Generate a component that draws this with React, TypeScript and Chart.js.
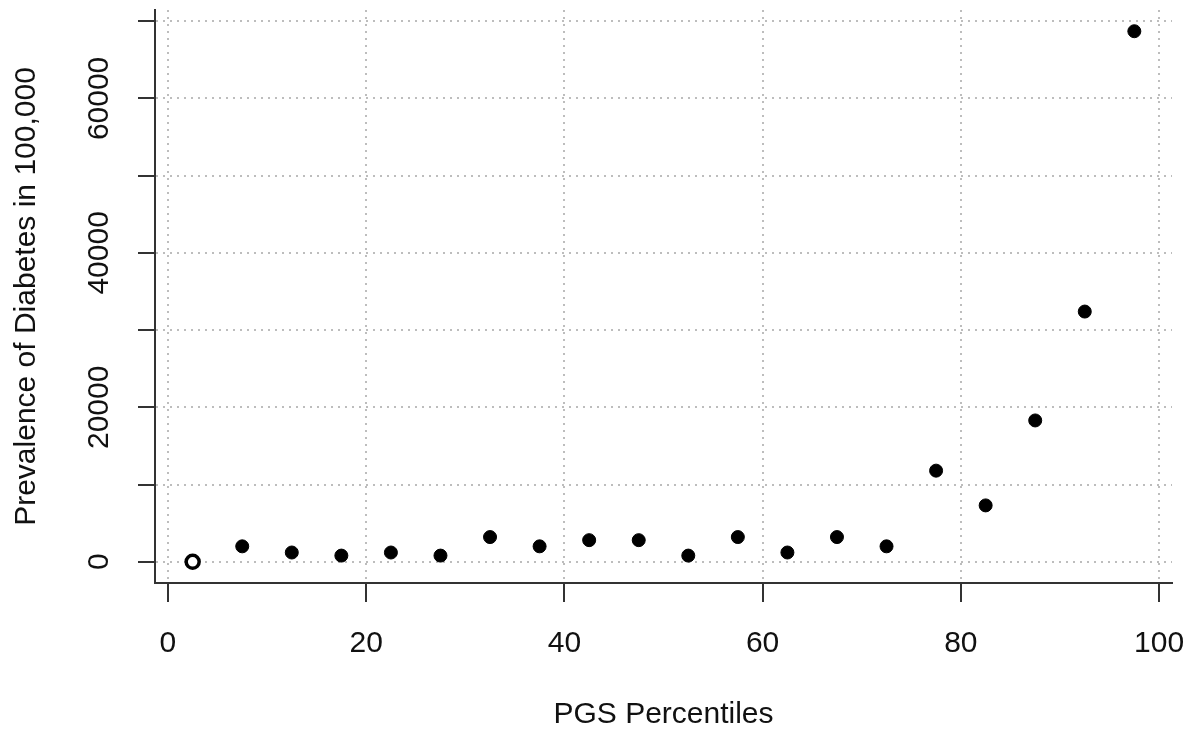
import React, { useEffect, useRef } from "react";
import { Chart, registerables } from "chart.js";

Chart.register(...registerables);

const percentiles = [2.5, 7.5, 12.5, 17.5, 22.5, 27.5, 32.5, 37.5, 42.5, 47.5, 52.5, 57.5, 62.5, 67.5, 72.5, 77.5, 82.5, 87.5, 92.5, 97.5];
const prevalence = [0, 2000, 1200, 800, 1200, 800, 3200, 2000, 2800, 2800, 800, 3200, 1200, 3200, 2000, 11800, 7300, 18300, 32400, 68700];
const xTicks = [0, 20, 40, 60, 80, 100];
const yGridTicks = [0, 10000, 20000, 30000, 40000, 50000, 60000, 70000];
const yTickLabels = [0, 20000, 40000, 60000];

const FONT = "'Liberation Sans', Arial, sans-serif";
const TEXT = "#111";
const AXIS = "#333";
const GRID = "#bdbdbd";

const yLabelPlugin = {
  id: "yLabels",
  afterDraw(chart: any) {
    const ctx = chart.ctx;
    const ys = chart.scales.y;
    ctx.save();
    ctx.font = `30px ${FONT}`;
    ctx.fillStyle = TEXT;
    ctx.textAlign = "center";
    ctx.textBaseline = "middle";
    for (const v of yTickLabels) {
      const py = ys.getPixelForValue(v);
      ctx.save();
      ctx.translate(100, py);
      ctx.rotate(-Math.PI / 2);
      ctx.fillText(String(v), 0, 0);
      ctx.restore();
    }
    ctx.restore();
  },
};

export default function App() {
  const ref = useRef<HTMLCanvasElement>(null);
  useEffect(() => {
    document.body.style.margin = "0";
    const xs = percentiles;
    const xMin = Math.min(...xs), xMax = Math.max(...xs);
    const yMin = Math.min(...prevalence), yMax = Math.max(...prevalence);
    const xr = (xMax - xMin) * 0.04;
    const yr = (yMax - yMin) * 0.04;
    const chart = new Chart(ref.current!, {
      type: "scatter",
      data: {
        datasets: [
          {
            data: percentiles.map((x, i) => ({ x, y: prevalence[i] })),
            pointRadius: 6.5,
            pointHoverRadius: 6.5,
            pointBackgroundColor: (c: any) => (c.dataIndex === 0 ? "#fff" : "#000"),
            pointBorderColor: "#000",
            pointBorderWidth: (c: any) => (c.dataIndex === 0 ? 3.5 : 1),
          },
        ],
      },
      options: {
        animation: false,
        responsive: false,
        devicePixelRatio: 1,
        layout: { padding: { top: 10, right: 20, left: 0, bottom: 0 } },
        plugins: { legend: { display: false }, tooltip: { enabled: false } },
        scales: {
          x: {
            type: "linear",
            min: xMin - xr,
            max: xMax + xr,
            afterBuildTicks: (axis: any) => {
              axis.ticks = xTicks.map((v) => ({ value: v }));
            },
            afterFit: (axis: any) => {
              axis.height = 150;
              axis.paddingLeft = 0;
              axis.paddingRight = 0;
            },
            grid: {
              color: GRID,
              lineWidth: 2,
              tickColor: AXIS,
              tickWidth: 2,
              tickBorderDash: [],
              tickLength: 19,
            },
            border: { display: true, color: AXIS, width: 2, dash: [2, 5] },
            ticks: {
              font: { family: FONT, size: 30, lineHeight: 1.2 },
              color: TEXT,
              padding: 24,
              maxRotation: 0,
              minRotation: 0,
            },
            title: {
              display: true,
              text: "PGS Percentiles",
              font: { family: FONT, size: 30, lineHeight: 1.2 },
              color: TEXT,
              padding: { top: 0, bottom: 0 },
            },
          },
          y: {
            type: "linear",
            min: yMin - yr,
            max: yMax + yr,
            afterBuildTicks: (axis: any) => {
              axis.ticks = yGridTicks.map((v) => ({ value: v }));
            },
            afterFit: (axis: any) => {
              axis.width = 155;
              axis.paddingTop = 0;
              axis.paddingBottom = 0;
            },
            grid: {
              color: GRID,
              lineWidth: 2,
              tickColor: AXIS,
              tickWidth: 2,
              tickBorderDash: [],
              tickLength: 17,
            },
            border: { display: true, color: AXIS, width: 2, dash: [2, 5] },
            ticks: { display: false },
            title: {
              display: true,
              text: "Prevalence of Diabetes in 100,000",
              font: { family: FONT, size: 30, lineHeight: 1.2 },
              color: TEXT,
              padding: { top: 9, bottom: 0 },
            },
          },
        },
      },
      plugins: [yLabelPlugin],
    } as any);
    return () => chart.destroy();
  }, []);
  return (
    <div style={{ width: 1192, height: 733, background: "#fff" }}>
      <canvas ref={ref} width={1192} height={733} style={{ display: "block" }} />
    </div>
  );
}
